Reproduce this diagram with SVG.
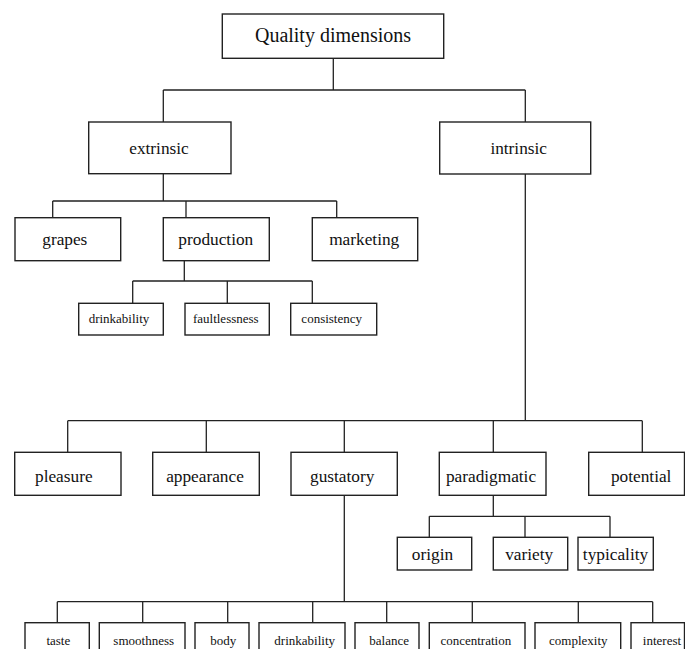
<svg xmlns="http://www.w3.org/2000/svg" width="685" height="649" viewBox="0 0 685 649">
<style>
  .box { fill: #ffffff; stroke: #222222; stroke-width: 1.4; }
  .ln { fill: none; stroke: #222222; stroke-width: 1.3; }
  text { font-family: "Liberation Serif", "Times New Roman", serif; fill: #111111; text-anchor: middle; }
  .t0 { font-size: 20px; }
  .t1 { font-size: 17.3px; }
  .t2 { font-size: 13px; }
</style>
<rect x="0" y="0" width="685" height="649" fill="#ffffff"/>
<g id="connectors">
  <path class="ln" d="M333.3,58.3 V90 M163.3,90 H525.3 M163.3,90 V122 M525.3,90 V122"/>
  <path class="ln" d="M163.3,173.7 V201 M52.7,201 H336.7 M52.7,201 V217.7 M186,201 V217.7 M336.7,201 V217.7"/>
  <path class="ln" d="M184.3,260.7 V281 M132.7,281 H312.3 M132.7,281 V303.3 M227.3,281 V303.3 M312.3,281 V303.3"/>
  <path class="ln" d="M525.3,174 V420.7 M67.7,420.7 H642.3 M67.7,420.7 V452.3 M206.3,420.7 V452.3 M344.3,420.7 V452.3 M493.3,420.7 V452.3 M642.3,420.7 V452.3"/>
  <path class="ln" d="M493.3,495.3 V516.3 M429.3,516.3 H610 M429.3,516.3 V537.3 M525,516.3 V537.3 M610,516.3 V537.3"/>
  <path class="ln" d="M344.3,495.3 V601.7 M57.3,601.7 H652.7 M57.3,601.7 V622.7 M142.7,601.7 V622.7 M227.7,601.7 V622.7 M312.7,601.7 V622.7 M386.7,601.7 V622.7 M472.3,601.7 V622.7 M578.3,601.7 V622.7 M652.7,601.7 V622.7"/>
</g>
<g id="n-quality"><rect class="box" x="222.3" y="14" width="221.4" height="44.3"/><text class="t0" x="333" y="42">Quality dimensions</text></g>
<g id="n-extrinsic"><rect class="box" x="88.7" y="122" width="142.3" height="51.7"/><text class="t1" x="159" y="154">extrinsic</text></g>
<g id="n-intrinsic"><rect class="box" x="439.7" y="122" width="151" height="52"/><text class="t1" x="518.7" y="154">intrinsic</text></g>
<g id="n-grapes"><rect class="box" x="15" y="217.7" width="105.7" height="43"/><text class="t1" x="64.8" y="245">grapes</text></g>
<g id="n-production"><rect class="box" x="163.3" y="217.7" width="106" height="43"/><text class="t1" x="215.8" y="245">production</text></g>
<g id="n-marketing"><rect class="box" x="312.3" y="217.7" width="105.4" height="43"/><text class="t1" x="364.2" y="245">marketing</text></g>
<g id="n-drinkability1"><rect class="box" x="78.7" y="303.3" width="84.6" height="31.7"/><text class="t2" x="119" y="323.3">drinkability</text></g>
<g id="n-faultlessness"><rect class="box" x="185" y="303.3" width="84.3" height="31.7"/><text class="t2" x="225.8" y="323.3">faultlessness</text></g>
<g id="n-consistency"><rect class="box" x="290.7" y="303.3" width="86" height="31.7"/><text class="t2" x="331.7" y="323.3">consistency</text></g>
<g id="n-pleasure"><rect class="box" x="14.7" y="452.3" width="106.3" height="43"/><text class="t1" x="63.8" y="481.7">pleasure</text></g>
<g id="n-appearance"><rect class="box" x="152.7" y="452.3" width="106.6" height="43"/><text class="t1" x="205" y="481.7">appearance</text></g>
<g id="n-gustatory"><rect class="box" x="291" y="452.3" width="106.3" height="43"/><text class="t1" x="342.2" y="481.7">gustatory</text></g>
<g id="n-paradigmatic"><rect class="box" x="439.3" y="452.3" width="106.7" height="43"/><text class="t1" x="491" y="481.7">paradigmatic</text></g>
<g id="n-potential"><rect class="box" x="588.7" y="452.3" width="95.8" height="43"/><text class="t1" x="641.2" y="481.7">potential</text></g>
<g id="n-origin"><rect class="box" x="397.3" y="537.3" width="74.4" height="32.7"/><text class="t1" x="432.5" y="560">origin</text></g>
<g id="n-variety"><rect class="box" x="493.3" y="537.3" width="74.4" height="32.7"/><text class="t1" x="529.2" y="560">variety</text></g>
<g id="n-typicality"><rect class="box" x="578" y="537.3" width="75.3" height="32.7"/><text class="t1" x="615.5" y="560">typicality</text></g>
<g id="n-taste"><rect class="box" x="25" y="622.7" width="64.3" height="40"/><text class="t2" x="58.3" y="644.5">taste</text></g>
<g id="n-smoothness"><rect class="box" x="99.3" y="622.7" width="85.7" height="40"/><text class="t2" x="143.7" y="644.5">smoothness</text></g>
<g id="n-body"><rect class="box" x="195" y="622.7" width="54" height="40"/><text class="t2" x="223.3" y="644.5">body</text></g>
<g id="n-drinkability2"><rect class="box" x="259" y="622.7" width="86" height="40"/><text class="t2" x="304.7" y="644.5">drinkability</text></g>
<g id="n-balance"><rect class="box" x="355" y="622.7" width="64" height="40"/><text class="t2" x="389.2" y="644.5">balance</text></g>
<g id="n-concentration"><rect class="box" x="429.3" y="622.7" width="95.7" height="40"/><text class="t2" x="475.8" y="644.5">concentration</text></g>
<g id="n-complexity"><rect class="box" x="535" y="622.7" width="85.7" height="40"/><text class="t2" x="578.3" y="644.5">complexity</text></g>
<g id="n-interest"><rect class="box" x="631" y="622.7" width="53.5" height="40"/><text class="t2" x="662" y="644.5">interest</text></g>
</svg>
